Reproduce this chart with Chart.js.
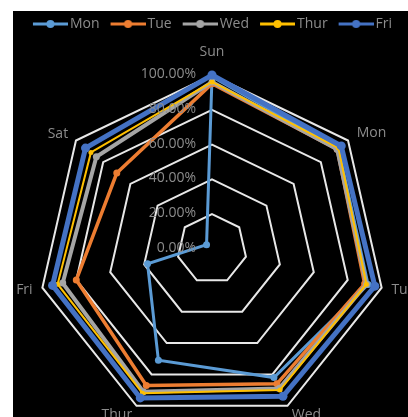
<!DOCTYPE html>
<html>
<head>
<meta charset="utf-8">
<script src="https://cdn.jsdelivr.net/npm/chart.js@4/dist/chart.umd.min.js"></script>
<style>
  html, body { margin: 0; padding: 0; background: #fff; width: 408px; height: 417px; overflow: hidden; }
  #panel { position: absolute; left: 13px; top: 11px; width: 395px; height: 406px; background: #000; }
  #radar { position: absolute; left: -48px; top: 7px; }
</style>
</head>
<body>
<div id="panel"></div>
<canvas id="radar" width="520" height="428"></canvas>
<script>
'use strict';

// 요일 축
const days = ['Sun', 'Mon', 'Tue', 'Wed', 'Thur', 'Fri', 'Sat'];
const seriesNames = ['Mon', 'Tue', 'Wed', 'Thur', 'Fri'];
const seriesColors = ['#5B9BD5', '#ED7D31', '#A5A5A5', '#FFC000', '#4472C4'];

// 값 (%)
const monValues  = [99, 93, 92, 82, 71, 38, 4];
const tueValues  = [95, 92, 90, 86, 87, 80, 70];
const wedValues  = [96, 92, 91, 89, 91, 88, 85];
const thurValues = [96, 93, 91, 90, 92, 91, 89];
const friValues  = [100, 95, 96, 94, 95, 94, 93];
const seriesValues = [monValues, tueValues, wedValues, thurValues, friValues];

const tickMin = 0;
const tickMax = 100;
const tickStep = 20;

const GREY = '#8c8c8c';
const lineWidths = [3, 3.5, 4, 2, 5];
const pointSizes = [3.5, 3.5, 3.5, 2.5, 4.5];
const labelPads = [22, 11, 10, 10, 10, 10, 10];

Chart.defaults.font.family = "'Open Sans', sans-serif";
Chart.defaults.font.size = 14;

// 범례용 선+점 마커
function legendMark(color) {
  const c = document.createElement('canvas');
  c.width = 41;
  c.height = 10;
  const g = c.getContext('2d');
  g.strokeStyle = color;
  g.lineWidth = 3;
  g.beginPath();
  g.moveTo(6, 5);
  g.lineTo(41, 5);
  g.stroke();
  g.fillStyle = color;
  g.beginPath();
  g.arc(23.5, 5, 4, 0, Math.PI * 2);
  g.fill();
  return c;
}
const marks = seriesColors.map(legendMark);

// 눈금 라벨은 축 왼쪽에 (0.00% 포함)
const tickLabels = {
  id: 'tickLabels',
  afterDatasetsDraw(chart) {
    const r = chart.scales.r;
    const ctx = chart.ctx;
    ctx.save();
    ctx.font = "14px 'Open Sans', sans-serif";
    ctx.fillStyle = GREY;
    ctx.textAlign = 'right';
    ctx.textBaseline = 'middle';
    r.ticks.forEach(t => {
      const d = r.getDistanceFromCenterForValue(t.value);
      ctx.fillText(t.label, r.xCenter - 16, r.yCenter - d - 1);
    });
    ctx.restore();
  },
};

const datasets = seriesNames.map((name, i) => ({
  label: name,
  data: seriesValues[i],
  borderColor: seriesColors[i],
  backgroundColor: seriesColors[i],
  pointBackgroundColor: seriesColors[i],
  pointBorderColor: seriesColors[i],
  pointBorderWidth: 0,
  borderWidth: lineWidths[i],
  pointRadius: pointSizes[i],
  fill: false,
  tension: 0,
  order: seriesNames.length - i,
}));

new Chart(document.getElementById('radar'), {
  type: 'radar',
  data: { labels: days, datasets },
  plugins: [tickLabels],
  options: {
    responsive: false,
    animation: false,
    layout: { padding: 0 },
    plugins: {
      tooltip: { enabled: false },
      legend: {
        position: 'top',
        labels: {
          color: GREY,
          font: { size: 14 },
          padding: 10,
          usePointStyle: true,
          pointStyleWidth: 31,
          generateLabels(chart) {
            const items = Chart.defaults.plugins.legend.labels.generateLabels(chart);
            items.sort((a, b) => a.datasetIndex - b.datasetIndex);
            items.forEach(it => { it.pointStyle = marks[it.datasetIndex]; });
            return items;
          },
        },
      },
    },
    scales: {
      r: {
        min: tickMin,
        max: tickMax,
        angleLines: { display: false },
        grid: { circular: false, color: '#e8e8e8', lineWidth: 2 },
        ticks: {
          display: false,
          stepSize: tickStep,
          callback: v => v.toFixed(2) + '%',
        },
        pointLabels: {
          color: GREY,
          font: { size: 14, lineHeight: '1px' },
          padding: ctx => labelPads[ctx.index],
        },
      },
    },
  },
});
</script>
</body>
</html>
